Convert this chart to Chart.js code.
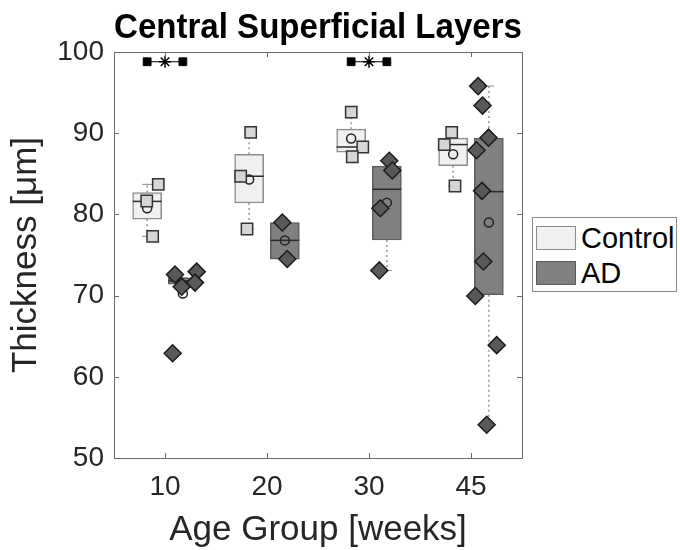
<!DOCTYPE html>
<html>
<head>
<meta charset="utf-8">
<script src="https://cdn.jsdelivr.net/npm/chart.js@4.4.0/dist/chart.umd.min.js"></script>
<style>
  html, body { margin: 0; padding: 0; background: #fff; }
  #wrap { position: relative; width: 680px; height: 550px; }
  #legend {
    position: absolute; left: 532px; top: 217px; width: 143px; height: 73px;
    border: 1px solid #8a8a8a; background: #fff;
    font-family: "Liberation Sans", Arial, sans-serif; font-size: 29px; color: #000;
  }
  #legend .item { position: absolute; left: 3px; height: 24px; display: flex; align-items: center; }
  #legend .sw { width: 38px; height: 22px; margin-right: 5px; }
</style>
</head>
<body>
<div id="wrap">
  <canvas id="chart" width="680" height="550"></canvas>
  <div id="legend"></div>
</div>
<script>
// grupos de idade
const groups = ["10", "20", "30", "45"];

// Control: caixas
const ctrlQ1 = [79.4, 81.4, 87.65, 86.0];
const ctrlQ3 = [82.7, 87.4, 90.5, 89.4];
const ctrlMedian = [81.6, 84.7, 88.3, 88.6];
const ctrlMean = [80.75, 84.3, 89.35, 87.4];
const ctrlWhiskLo = [77.3, 78.2, 87.1, 83.5];
const ctrlWhiskHi = [83.7, 90.1, 92.6, 90.1];
// Control: pontos individuais
const ctrlValues = [[83.7, 81.65, 77.3], [90.1, 84.7, 78.2], [92.6, 88.3, 87.1], [90.1, 88.6, 83.5]];
const ctrlJitter = [[-0.066, -0.179, -0.121], [-0.160, -0.258, -0.196], [-0.174, -0.061, -0.164], [-0.189, -0.262, -0.157]];

// AD: caixas
const adQ1 = [71.4, 74.5, 76.85, 70.1];
const adQ3 = [72.2, 79.0, 85.95, 89.4];
const adMedian = [71.8, 76.8, 83.1, 82.8];
const adMean = [70.25, 76.8, 81.45, 79.0];
const adWhiskLo = [71.4, 74.5, 73.1, 54.1];
const adWhiskHi = [72.2, 79.0, 86.6, 95.8];
// AD: pontos individuais
const adValues = [[72.6, 72.95, 71.1, 71.6, 62.9], [79.0, 74.5], [86.6, 85.4, 80.75, 73.1],
  [95.8, 93.4, 89.45, 87.9, 82.9, 74.2, 69.95, 63.9, 54.1]];
const adJitter = [[0.098, 0.311, 0.164, 0.294, 0.075], [0.150, 0.199], [0.199, 0.228, 0.111, 0.101],
  [0.070, 0.113, 0.172, 0.054, 0.108, 0.121, 0.042, 0.252, 0.154]];

// significância (índices dos grupos) e altura
const sigGroups = [0, 2];
const sigLevel = 98.8;

const OFF = 0.175; // deslocamento Control/AD dentro do grupo
const BOX_PX = 29;

const pos = (i, side) => i + 1 + side * OFF;

function boxes(q1, q3, side) {
  return groups.map((g, i) => ({ x: pos(i, side), y: [q1[i], q3[i]] }));
}
function centers(vals, side) {
  return groups.map((g, i) => ({ x: pos(i, side), y: vals[i] }));
}
function points(vals, jit) {
  return groups.flatMap((g, i) => vals[i].map((v, j) => ({ x: i + 1 + jit[i][j], y: v })));
}
function whiskers(q1, q3, lo, hi, side) {
  const out = [];
  groups.forEach((g, i) => {
    const x = pos(i, side);
    out.push({ x, y: q3[i] }, { x, y: hi[i] }, { x, y: null });
    out.push({ x, y: q1[i] }, { x, y: lo[i] }, { x, y: null });
  });
  return out;
}
function caps(lo, hi, side) {
  return groups.flatMap((g, i) => [{ x: pos(i, side), y: lo[i] }, { x: pos(i, side), y: hi[i] }]);
}
function sigLine() {
  const out = [];
  sigGroups.forEach(i => {
    out.push({ x: pos(i, -1), y: sigLevel }, { x: pos(i, 1), y: sigLevel }, { x: i + 1, y: null });
  });
  return out;
}

// moldura estilo MATLAB com ticks para dentro
const frame = {
  id: "frame",
  afterDatasetsDraw(chart) {
    const { ctx, chartArea: a, scales: { x, y } } = chart;
    ctx.save();
    ctx.strokeStyle = "#6a6a6a"; ctx.lineWidth = 1;
    ctx.strokeRect(Math.round(a.left) + 0.5, Math.round(a.top) + 0.5, Math.round(a.width), Math.round(a.height));
    ctx.beginPath();
    x.ticks.forEach(t => {
      const px = Math.round(x.getPixelForValue(t.value)) + 0.5;
      ctx.moveTo(px, a.bottom); ctx.lineTo(px, a.bottom - 5);
      ctx.moveTo(px, a.top); ctx.lineTo(px, a.top + 5);
    });
    y.ticks.forEach(t => {
      const py = Math.round(y.getPixelForValue(t.value)) + 0.5;
      ctx.moveTo(a.left, py); ctx.lineTo(a.left + 5, py);
      ctx.moveTo(a.right, py); ctx.lineTo(a.right - 5, py);
    });
    ctx.stroke();
    ctx.restore();
  }
};

const font = "'Liberation Sans', Arial, sans-serif";

const chart = new Chart(document.getElementById("chart"), {
  type: "scatter",
  data: {
    datasets: [
      { type: "line", data: sigLine(), borderColor: "#000", borderWidth: 1, pointStyle: "rect",
        pointRadius: 5.5, pointBackgroundColor: "#000", pointBorderColor: "#000", spanGaps: false, order: 0 },
      { data: sigGroups.map(i => ({ x: i + 1, y: sigLevel })), pointStyle: "star", pointRadius: 6,
        borderColor: "#000", borderWidth: 1.5, order: 0 },
      { type: "line", data: whiskers(ctrlQ1, ctrlQ3, ctrlWhiskLo, ctrlWhiskHi, -1), borderColor: "#9a9a9a",
        borderWidth: 1.5, borderDash: [2, 3], pointRadius: 0, spanGaps: false, order: 9 },
      { type: "line", data: whiskers(adQ1, adQ3, adWhiskLo, adWhiskHi, 1), borderColor: "#9a9a9a",
        borderWidth: 1.5, borderDash: [2, 3], pointRadius: 0, spanGaps: false, order: 9 },
      { data: caps(ctrlWhiskLo, ctrlWhiskHi, -1).concat(caps(adWhiskLo, adWhiskHi, 1)), pointStyle: "line",
        pointRadius: 5, borderColor: "#8a8a8a", borderWidth: 1, order: 8 },
      { type: "bar", label: "Control", data: boxes(ctrlQ1, ctrlQ3, -1), grouped: false, barThickness: BOX_PX,
        backgroundColor: "#f0f0f0", borderColor: "#8c8c8c", borderWidth: 1.5, borderSkipped: false, order: 7 },
      { type: "bar", label: "AD", data: boxes(adQ1, adQ3, 1), grouped: false, barThickness: BOX_PX,
        backgroundColor: "#808080", borderColor: "#5c5c5c", borderWidth: 1.5, borderSkipped: false, order: 7 },
      { data: centers(ctrlMedian, -1).concat(centers(adMedian, 1)), pointStyle: "line", pointRadius: BOX_PX / 2,
        borderColor: "#2b2b2b", borderWidth: 1.5, order: 6 },
      { data: centers(ctrlMean, -1).concat(centers(adMean, 1)), pointStyle: "circle", pointRadius: 4.5,
        backgroundColor: "rgba(0,0,0,0)", borderColor: "#222", borderWidth: 1.5, order: 5 },
      { data: points(ctrlValues, ctrlJitter), pointStyle: "rect", pointRadius: 8,
        backgroundColor: "#d6d6d6", borderColor: "#333", borderWidth: 1.5, order: 4 },
      { data: points(adValues, adJitter), pointStyle: "rectRot", pointRadius: 8.5,
        backgroundColor: "#595959", borderColor: "#1c1c1c", borderWidth: 1.5, order: 3 }
    ]
  },
  options: {
    responsive: false,
    animation: false,
    layout: { padding: { left: 5, right: 158, top: 0, bottom: 0 } },
    plugins: {
      legend: { display: false },
      tooltip: { enabled: false },
      title: {
        display: true, text: "Central Superficial Layers", fullSize: false,
        color: "#000", font: { family: font, size: 35, weight: "bold" },
        padding: { top: 7, bottom: 3 }
      }
    },
    scales: {
      x: {
        type: "linear", min: 0.5, max: 4.5, offset: false,
        grid: { display: false, offset: false, drawTicks: false }, border: { display: false },
        afterBuildTicks: s => { s.ticks = groups.map((g, i) => ({ value: i + 1 })); },
        afterFit: s => { s.height = 92; },
        ticks: { color: "#262626", font: { family: font, size: 28 }, padding: 12,
          callback: v => groups[v - 1] ?? "", maxRotation: 0, autoSkip: false },
        title: { display: true, text: "Age Group [weeks]", color: "#262626",
          font: { family: font, size: 35, lineHeight: 1.1 }, padding: 0 }
      },
      y: {
        min: 50, max: 100,
        grid: { display: false, drawTicks: false }, border: { display: false },
        afterFit: s => { s.width = 109; },
        ticks: { stepSize: 10, color: "#262626", font: { family: font, size: 28 }, padding: 10 },
        title: { display: true, text: "Thickness [μm]", color: "#262626",
          font: { family: font, size: 35 }, padding: 0 }
      }
    }
  },
  plugins: [frame]
});

// legenda em HTML com as cores das caixas
const legendEl = document.getElementById("legend");
chart.data.datasets.filter(d => d.label).forEach((d, k) => {
  const it = document.createElement("div");
  it.className = "item";
  it.style.top = (8 + k * 35) + "px";
  it.innerHTML = `<span class="sw" style="background:${d.backgroundColor};border:1px solid ${d.borderColor}"></span>${d.label}`;
  legendEl.appendChild(it);
});
</script>
</body>
</html>
